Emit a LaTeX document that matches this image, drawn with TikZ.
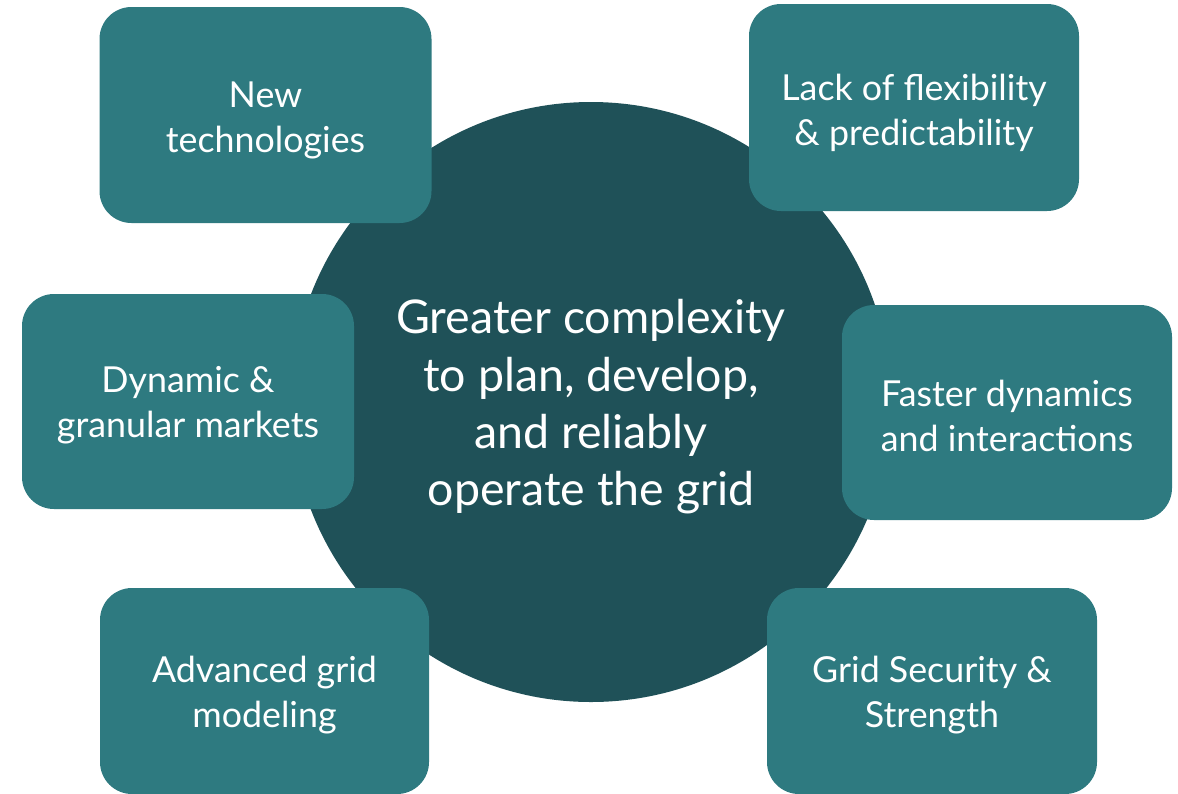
\documentclass[tikz,border=0pt]{standalone}
\usepackage{fontspec}
\setmainfont{Lato}
\definecolor{hubteal}{HTML}{1F5158}
\definecolor{boxteal}{HTML}{2E7A80}
\begin{document}
\begin{tikzpicture}[x=1pt,y=-1pt,
  hub/.style={circle,fill=hubteal,minimum size=600pt,inner sep=0pt},
  hubtext/.style={text=white,inner sep=0pt,align=center,font=\fontsize{46.5}{57.3}\selectfont},
  factor/.style={rectangle,rounded corners=32pt,fill=boxteal,inner sep=0pt},
  factortext/.style={text=white,inner sep=0pt,align=center,font=\fontsize{35.8}{45}\selectfont}]
\useasboundingbox (0,0) rectangle (1178,793);
% central disc and its caption
\node[hub] (core) at (591,402) {};
\node[hubtext] (coretext) at ([yshift=-5pt]core.center) {Greater complexity\\to plan, develop,\\and reliably\\operate the grid};
% surrounding factor boxes
\node[factor,minimum width=332pt,minimum height=216pt] (tech) at (265.5,115) {};
\node[factor,minimum width=330pt,minimum height=207pt] (flex) at (914,107.5) {};
\node[factor,minimum width=332pt,minimum height=215pt] (mkt) at (188,401.5) {};
\node[factor,minimum width=330pt,minimum height=215pt] (fast) at (1007,412.5) {};
\node[factor,minimum width=329pt,minimum height=206pt] (model) at (264.5,691) {};
\node[factor,minimum width=330pt,minimum height=206pt] (sec) at (932,691) {};
% box captions
\node[factortext] (techtext) at ([yshift=-5pt]tech.center) {New\\technologies};
\node[factortext] (flextext) at ([yshift=-5pt]flex.center) {Lack of flexibility\\\& predictability};
\node[factortext] (mkttext) at ([yshift=-4pt]mkt.center) {Dynamic \&\\granular markets};
\node[factortext] (fasttext) at ([yshift=-3pt]fast.center) {Faster dynamics\\and interactions};
\node[factortext] (modeltext) at ([yshift=-4pt]model.center) {Advanced grid\\modeling};
\node[factortext] (sectext) at ([yshift=-4pt]sec.center) {Grid Security \&\\Strength};
\end{tikzpicture}
\end{document}
